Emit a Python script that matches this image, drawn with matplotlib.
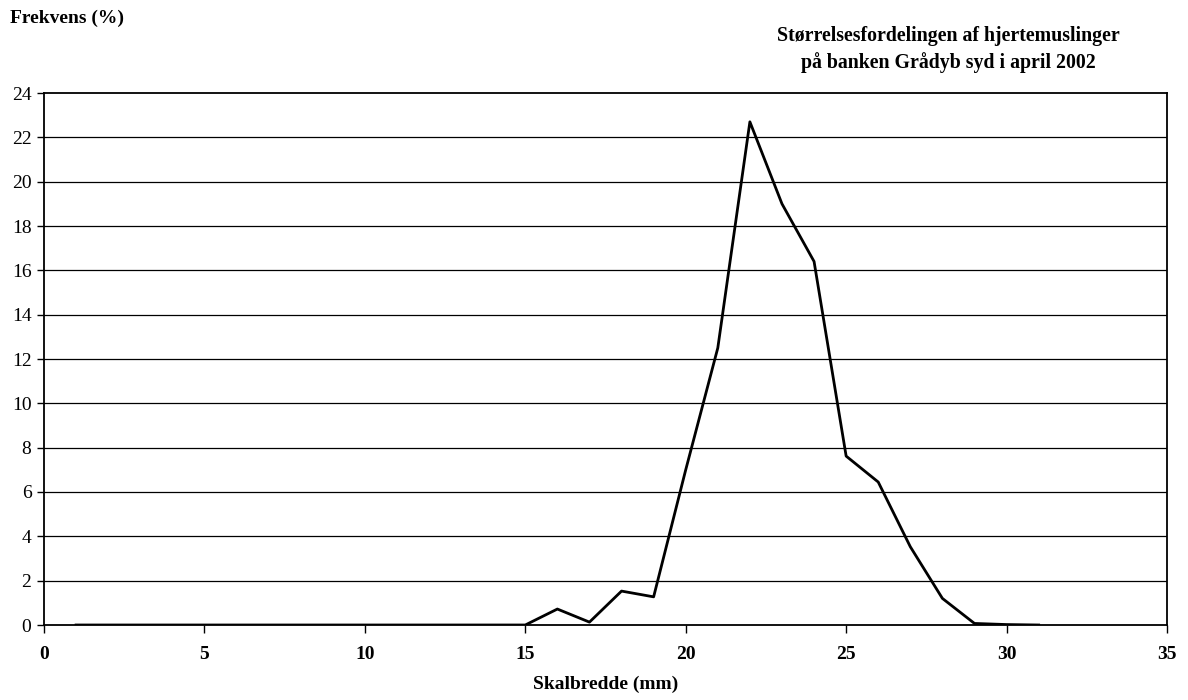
import matplotlib
matplotlib.use("Agg")
import matplotlib.pyplot as plt

size_mm = list(range(1, 32))
freq_pct = [0, 0, 0, 0, 0, 0, 0, 0, 0, 0, 0, 0, 0, 0, 0,
            0.72, 0.13, 1.53, 1.27, 7.0, 12.5, 22.7, 19.0, 16.4,
            7.62, 6.45, 3.53, 1.2, 0.07, 0.02, 0.0]
x_ticks = [0, 5, 10, 15, 20, 25, 30, 35]
y_ticks = list(range(0, 25, 2))

plt.rcParams['font.family'] = ['Liberation Serif', 'DejaVu Serif']

fig = plt.figure(figsize=(11.88, 7.0), dpi=100)
ax = fig.add_axes([44/1188, 1-625/700, (1167-44)/1188, (625-93)/700])

for y in y_ticks[1:-1]:
    ax.axhline(y, color='black', lw=0.9, zorder=1)

ax.plot(size_mm, freq_pct, color='black', lw=2.0, zorder=3)

ax.set_xlim(0, 35)
ax.set_ylim(0, 24)
ax.set_xticks(x_ticks)
ax.set_yticks(y_ticks)
ax.set_xticklabels([str(v) for v in x_ticks], fontweight='bold', fontsize=14)
ax.set_yticklabels([str(v) for v in y_ticks], fontsize=14)
ax.tick_params(axis='x', direction='out', length=6, width=1, pad=9)
ax.tick_params(axis='y', direction='out', length=5, width=1, pad=4)
for s in ax.spines.values():
    s.set_linewidth(1.3)
    s.set_color('black')

ax.set_xlabel('Skalbredde (mm)', fontweight='bold', fontsize=14, labelpad=9)
fig.text(10/1188, 1-18/700, 'Frekvens (%)', fontweight='bold', fontsize=14,
         ha='left', va='center')
fig.text(948/1188, 1-49.5/700,
         'Størrelsesfordelingen af hjertemuslinger\npå banken Grådyb syd i april 2002',
         fontweight='bold', fontsize=14.3, ha='center', va='center', linespacing=1.4)

fig.savefig('out.png', dpi=100)
